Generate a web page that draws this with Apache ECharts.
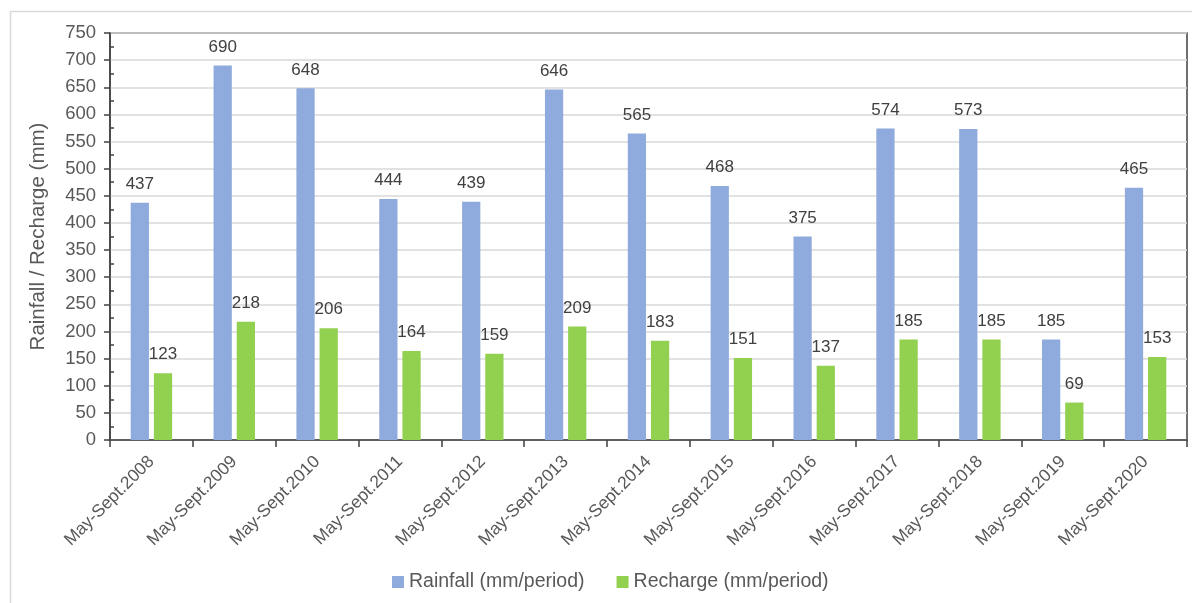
<!DOCTYPE html>
<html>
<head>
<meta charset="utf-8">
<script src="https://cdn.jsdelivr.net/npm/echarts@6/dist/echarts.min.js"></script>
<style>
  html, body { margin: 0; padding: 0; background: #ffffff; }
  #chart { width: 1192px; height: 603px; }
</style>
</head>
<body>
<div id="chart"></div>
<script>
// Seasonal (May–September) rainfall and groundwater recharge per year
const periods = [
  'May-Sept.2008', 'May-Sept.2009', 'May-Sept.2010', 'May-Sept.2011',
  'May-Sept.2012', 'May-Sept.2013', 'May-Sept.2014', 'May-Sept.2015',
  'May-Sept.2016', 'May-Sept.2017', 'May-Sept.2018', 'May-Sept.2019',
  'May-Sept.2020'
];
const rainfall = [437, 690, 648, 444, 439, 646, 565, 468, 375, 574, 573, 185, 465];
const recharge = [123, 218, 206, 164, 159, 209, 183, 151, 137, 185, 185, 69, 153];

const FONT = '"Liberation Sans", Arial, sans-serif';
const AXIS_DARK = '#404040';
const TEXT_GREY = '#595959';

const chart = echarts.init(document.getElementById('chart'), null, { renderer: 'canvas' });

const valueLabel = {
  show: true,
  position: 'top',
  distance: 10,
  color: '#404040',
  fontFamily: FONT,
  fontSize: 17
};

chart.setOption({
  backgroundColor: '#ffffff',
  animation: false,
  textStyle: { fontFamily: FONT },
  graphic: [{
    type: 'rect',
    shape: { x: 10.5, y: 11.5, width: 1300, height: 700 },
    style: { fill: 'none', stroke: '#d9d9d9', lineWidth: 1.5 },
    silent: true,
    z: -10
  }],
  grid: {
    left: 110, right: 5, top: 33, bottom: 163,
    show: true,
    borderColor: AXIS_DARK,
    borderWidth: 1.5,
    backgroundColor: 'transparent'
  },
  legend: {
    bottom: 6,
    left: 387,
    itemWidth: 12,
    itemHeight: 12,
    itemGap: 32,
    icon: 'rect',
    textStyle: { color: TEXT_GREY, fontSize: 19.5, fontFamily: FONT },
    data: ['Rainfall (mm/period)', 'Recharge (mm/period)']
  },
  xAxis: {
    type: 'category',
    data: periods,
    axisLine: { lineStyle: { color: AXIS_DARK, width: 1.5 } },
    axisTick: { show: true, alignWithLabel: false, length: 7, lineStyle: { color: AXIS_DARK, width: 1.5 } },
    axisLabel: {
      rotate: 45,
      interval: 0,
      margin: 19,
      color: TEXT_GREY,
      fontSize: 17.5,
      fontFamily: FONT
    },
    splitLine: { show: false }
  },
  yAxis: {
    type: 'value',
    min: 0,
    max: 750,
    interval: 50,
    name: 'Rainfall / Recharge (mm)',
    nameLocation: 'middle',
    nameGap: 61,
    nameTextStyle: { color: TEXT_GREY, fontSize: 20.5, fontFamily: FONT },
    axisLine: { show: true, lineStyle: { color: AXIS_DARK, width: 1.5 } },
    axisTick: { show: true, length: 6, lineStyle: { color: AXIS_DARK, width: 1.5 } },
    minorTick: { show: true, splitNumber: 2, length: -4, lineStyle: { color: AXIS_DARK, width: 1.5 } },
    axisLabel: { color: TEXT_GREY, fontSize: 18.5, fontFamily: FONT, margin: 14 },
    splitLine: { show: true, lineStyle: { color: '#d9d9d9', width: 1.5 } }
  },
  series: [
    {
      name: 'Rainfall (mm/period)',
      type: 'bar',
      data: rainfall,
      barGap: '27%',
      barCategoryGap: '50%',
      itemStyle: { color: '#8faadc' },
      label: valueLabel
    },
    {
      name: 'Recharge (mm/period)',
      type: 'bar',
      data: recharge,
      itemStyle: { color: '#92d050' },
      label: valueLabel
    }
  ]
});
</script>
</body>
</html>
